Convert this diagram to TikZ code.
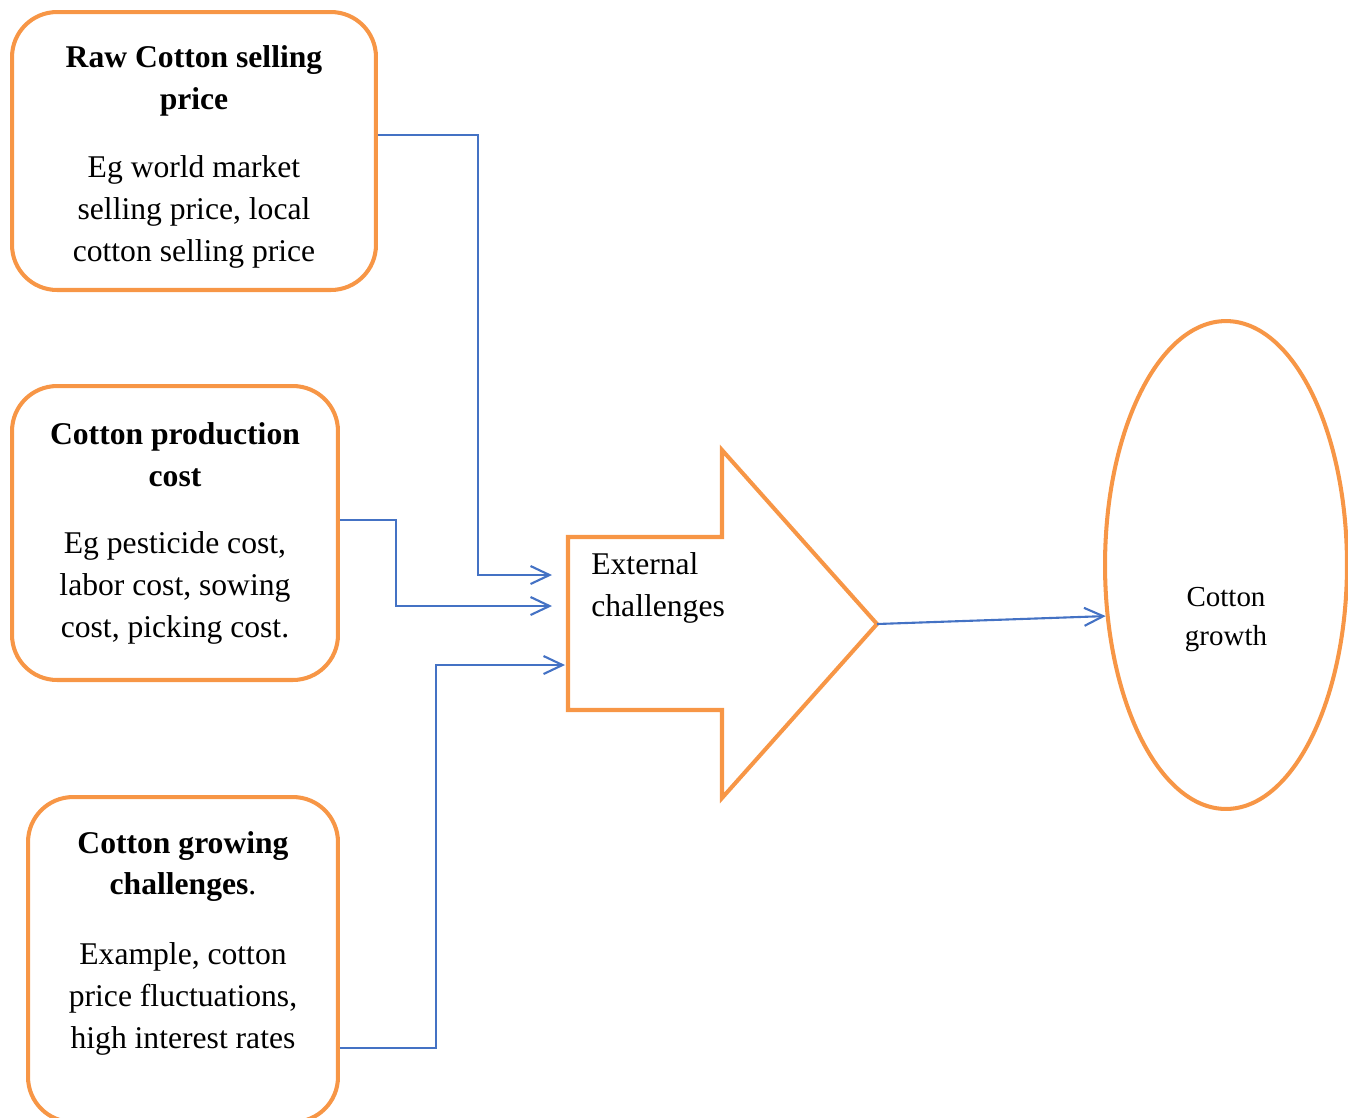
\documentclass[tikz,border=0pt]{standalone}
\usepackage{fontspec}
\setmainfont{Liberation Serif}
\usetikzlibrary{arrows.meta, positioning, shapes.geometric}
\definecolor{boxorange}{RGB}{247,150,70}
\definecolor{linkblue}{RGB}{68,114,196}
\tikzstyle{box} = [draw=boxorange, line width=2.3pt, rectangle, rounded corners=0.9cm]
\tikzstyle{blob} = [draw=boxorange, line width=2.3pt, ellipse, minimum width=4.84cm, minimum height=9.76cm, inner sep=0pt]
\tikzstyle{bigarrow} = [draw=boxorange, line width=2.3pt, line join=miter]
\tikzstyle{title} = [font=\fontsize{18}{23.9}\selectfont\bfseries, align=center]
\tikzstyle{body} = [font=\fontsize{18}{23.9}\selectfont, align=center]
\tikzstyle{link} = [-{Straight Barb[length=3.8mm, width=3.6mm]}, draw=linkblue, line width=1.2pt]

\begin{document}
\begin{tikzpicture}[x=0.02cm, y=-0.02cm]
    \useasboundingbox (0,0) rectangle (1348,1117);

    % Boxes.
    \node (raw) [box, minimum width=7.28cm, minimum height=5.56cm] at (194,151) {};
    \node (prod) [box, minimum width=6.52cm, minimum height=5.88cm] at (175,533) {};
    \node (grow) [box, minimum width=6.2cm, minimum height=6.5cm] at (183,959.5) {};

    % Box texts.
    \node (raw title) [title] at (194,80.5) {Raw Cotton selling\\price};
    \node (raw body) [body] at (194,212) {Eg world market\\selling price, local\\cotton selling price};
    \node (prod title) [title] at (175,455) {Cotton production\\cost};
    \node (prod body) [body] at (175,588) {Eg pesticide cost,\\labor cost, sowing\\cost, picking cost.};
    \node (grow title) [title] at (183,866.5) {Cotton growing\\challenges\textmd{.}};
    \node (grow body) [body] at (183,998.5) {Example, cotton\\price fluctuations,\\high interest rates};

    % Big arrow.
    \draw [bigarrow] (568,537) -- (722,537) -- (722,450) -- (877,624) coordinate (ext tip)
        -- (722,798) -- (722,710) -- (568,710) -- cycle;
    \node (ext) [body, align=left, anchor=west, inner sep=0pt] at (591,587.5) {External\\challenges};
    \coordinate (in 1) at (552,575);
    \coordinate (in 2) at (552,606);
    \coordinate (in 3) at (565,665);

    % Ellipse.
    \node (growth) [blob] at (1226,565) {};
    \node (growth text) [font=\fontsize{16.5}{22.2}\selectfont, align=center] at (1226,620) {Cotton\\growth};

    % Arrows.
    \draw [link] ([yshift=0.32cm]raw.east) -- ++(100,0) |- (in 1);
    \draw [link] ([yshift=0.26cm]prod.east) -- ++(56,0) |- (in 2);
    \draw [link] ([yshift=-1.77cm]grow.east) -- ++(96,0) |- (in 3);
    \draw [link] (ext tip) -- (growth.203);
\end{tikzpicture}
\end{document}
